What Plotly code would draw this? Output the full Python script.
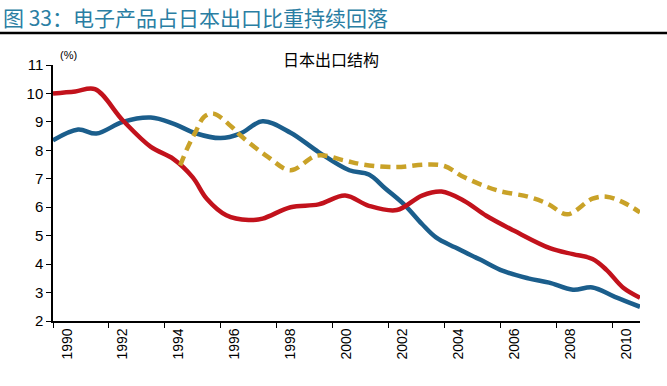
import plotly.graph_objects as go

# ---- data ----
blue_x = [1989.5, 1990.4, 1991.05, 1992.0, 1993.0, 1993.8, 1994.6, 1995.5, 1996.2, 1997.0,
          1998.0, 1999.0, 2000.1, 2000.8, 2001.4, 2002.1, 2002.7, 2003.2, 2003.9, 2004.8,
          2005.6, 2006.5, 2007.25, 2008.1, 2008.8, 2009.6, 2010.5]
blue_y = [8.35, 8.73, 8.59, 9.0, 9.15, 8.94, 8.6, 8.43, 8.59, 9.02,
          8.62, 7.94, 7.3, 7.15, 6.65, 6.06, 5.41, 4.94, 4.58, 4.15,
          3.76, 3.5, 3.35, 3.1, 3.18, 2.85, 2.5]

red_x = [1989.5, 1990.3, 1991.0, 1992.0, 1993.0, 1993.8, 1994.5, 1995.0, 1995.7, 1996.5,
         1997.0, 1998.0, 1999.0, 1999.95, 2000.8, 2001.8, 2002.7, 2003.4, 2004.2, 2005.0,
         2006.0, 2007.3, 2008.1, 2008.8, 2009.3, 2009.9, 2010.5]
red_y = [10.0, 10.07, 10.15, 9.05, 8.12, 7.7, 7.05, 6.3, 5.72, 5.55,
         5.6, 6.0, 6.1, 6.41, 6.05, 5.9, 6.41, 6.55, 6.23, 5.7,
         5.17, 4.55, 4.35, 4.18, 3.8, 3.17, 2.82]

gold_x = [1994.05, 1994.3, 1994.6, 1994.9, 1995.24, 1995.9, 1996.2, 1997.2, 1998.0, 1998.95,
          1999.9, 2000.6, 2001.8, 2002.8, 2003.5, 2004.2, 2005.4, 2006.5, 2007.2, 2007.9,
          2008.8, 2009.3, 2009.9, 2010.5]
gold_y = [7.47, 8.06, 8.65, 9.17, 9.29, 8.82, 8.53, 7.76, 7.3, 7.82,
          7.65, 7.5, 7.41, 7.5, 7.45, 7.06, 6.59, 6.37, 6.12, 5.75,
          6.3, 6.37, 6.17, 5.82]

x_labels = ["1990", "1992", "1994", "1996", "1998", "2000", "2002", "2004", "2006", "2008", "2010"]
x_label_pos = [1990, 1992, 1994, 1996, 1998, 2000, 2002, 2004, 2006, 2008, 2010]
x_tick_marks = [1989.5, 1991.5, 1993.5, 1995.5, 1997.5, 1999.5, 2001.5, 2003.5, 2005.5, 2007.5, 2009.5]
y_ticks = [2, 3, 4, 5, 6, 7, 8, 9, 10, 11]

title_text = "图 33：电子产品占日本出口比重持续回落"
chart_title = "日本出口结构"
unit_text = "(%)"

BLUE = "#1B5E8C"
RED = "#C2121C"
GOLD = "#C9A228"
TEAL = "#2A7EA3"

fig = go.Figure()
fig.add_trace(go.Scatter(x=blue_x, y=blue_y, mode="lines",
                         line=dict(color=BLUE, width=4.5, shape="spline", smoothing=1.0),
                         showlegend=False, hoverinfo="skip"))
fig.add_trace(go.Scatter(x=red_x, y=red_y, mode="lines",
                         line=dict(color=RED, width=4.5, shape="spline", smoothing=1.0),
                         showlegend=False, hoverinfo="skip"))
fig.add_trace(go.Scatter(x=gold_x, y=gold_y, mode="lines",
                         line=dict(color=GOLD, width=4.5, shape="spline", smoothing=1.0, dash="10px,6px"),
                         showlegend=False, hoverinfo="skip"))

fig.update_layout(
    width=667, height=386,
    margin=dict(l=53, r=27, t=65, b=65, autoexpand=False),
    paper_bgcolor="white", plot_bgcolor="white",
    font=dict(family="Liberation Sans, Arial, sans-serif", color="black"),
    xaxis=dict(range=[1989.5, 2010.5], tickvals=x_label_pos, ticktext=x_labels,
               tickangle=-90, ticks="", showgrid=False, zeroline=False, automargin=False,
               showline=True, linecolor="black", linewidth=1.5,
               tickfont=dict(size=14, family="Liberation Sans, Arial"),
               minor=dict(tickvals=x_tick_marks, ticks="outside", ticklen=5,
                          tickcolor="black", tickwidth=1, showgrid=False)),
    yaxis=dict(range=[2, 11], tickvals=y_ticks, ticks="outside", ticklen=5,
               tickcolor="black", showgrid=False, zeroline=False, automargin=False,
               showline=True, linecolor="black", linewidth=1.5,
               tickfont=dict(size=15, family="Liberation Sans, Arial")),
    annotations=[
        dict(text=title_text, xref="paper", yref="paper", x=-0.0885, y=1.254,
             xanchor="left", yanchor="top", showarrow=False,
             font=dict(size=21, color=TEAL, family="Noto Sans CJK SC")),
        dict(text=chart_title, xref="paper", yref="paper", x=0.474, y=1.025,
             xanchor="center", yanchor="middle", showarrow=False,
             font=dict(size=16, color="black", family="Noto Sans CJK SC")),
        dict(text=unit_text, xref="paper", yref="paper", x=0.008, y=1.04,
             xanchor="left", yanchor="middle", showarrow=False,
             font=dict(size=11, color="black", family="Liberation Sans, Arial")),
    ],
    shapes=[
        dict(type="line", xref="paper", yref="paper", x0=-0.0903, x1=1.046,
             y0=1.125, y1=1.125, line=dict(color="black", width=2.5)),
    ],
)

# remove the default 8px page margin so the figure sits at the window's top-left corner
fig.write_html("out.html", config={"displayModeBar": False},
               post_script="document.body.style.margin='0px';")
